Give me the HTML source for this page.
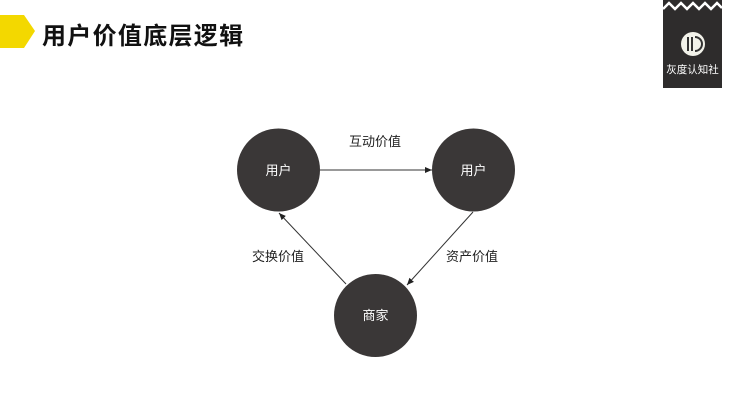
<!DOCTYPE html>
<html><head><meta charset="utf-8"><style>
body{margin:0;width:752px;height:410px;background:#fff;overflow:hidden;position:relative;font-family:"Liberation Sans","Noto Sans CJK SC",sans-serif}
.t{position:absolute;left:42px;top:16px;font-size:24px;font-weight:bold;color:#111;letter-spacing:1.3px}
</style></head><body>
<svg width="752" height="410" style="position:absolute;left:0;top:0">
<polygon points="0,15 24,15 35,31 24,48 0,48" fill="#f3d800"/>
<rect x="663" y="0" width="59" height="88" fill="#2e2c2c"/>
<polyline points="663,9 669,3 675,9 681,3 687,9 693,3 699,9 705,3 711,9 717,3 722,8" fill="none" stroke="#fff" stroke-width="2.5"/>
<circle cx="693" cy="44" r="12" fill="#f2f2ea"/>
<rect x="687" y="37" width="2" height="14" fill="#333"/><rect x="691" y="37" width="2" height="14" fill="#333"/>
<path d="M695 37 a7 7 0 0 1 0 14" fill="none" stroke="#333" stroke-width="2"/>
<text x="692.5" y="73" font-size="10.5" fill="#fff" text-anchor="middle" font-family="Liberation Sans,Noto Sans CJK SC,sans-serif">灰度认知社</text>
<defs><marker id="a" markerWidth="8" markerHeight="8" refX="7" refY="4" orient="auto" markerUnits="userSpaceOnUse"><path d="M0,1 L7,4 L0,7z" fill="#222"/></marker></defs>
<line x1="320" y1="170" x2="432" y2="170" stroke="#333" stroke-width="1" marker-end="url(#a)"/>
<line x1="346" y1="284" x2="279" y2="213" stroke="#333" stroke-width="1" marker-end="url(#a)"/>
<line x1="473" y1="212" x2="407" y2="285" stroke="#333" stroke-width="1" marker-end="url(#a)"/>
<circle cx="278.5" cy="170" r="41.5" fill="#3a3737"/>
<circle cx="473.5" cy="170" r="41.5" fill="#3a3737"/>
<circle cx="375.5" cy="315.5" r="41.5" fill="#3a3737"/>
<g font-size="13" font-family="Liberation Sans,Noto Sans CJK SC,sans-serif" text-anchor="middle">
<text x="278.5" y="175" fill="#fff">用户</text>
<text x="473.5" y="175" fill="#fff">用户</text>
<text x="375.5" y="320" fill="#fff">商家</text>
<text x="375" y="146" fill="#222">互动价值</text>
<text x="278" y="261" fill="#222">交换价值</text>
<text x="472" y="261" fill="#222">资产价值</text>
</g>
</svg>
<div class="t">用户价值底层逻辑</div>
</body></html>
